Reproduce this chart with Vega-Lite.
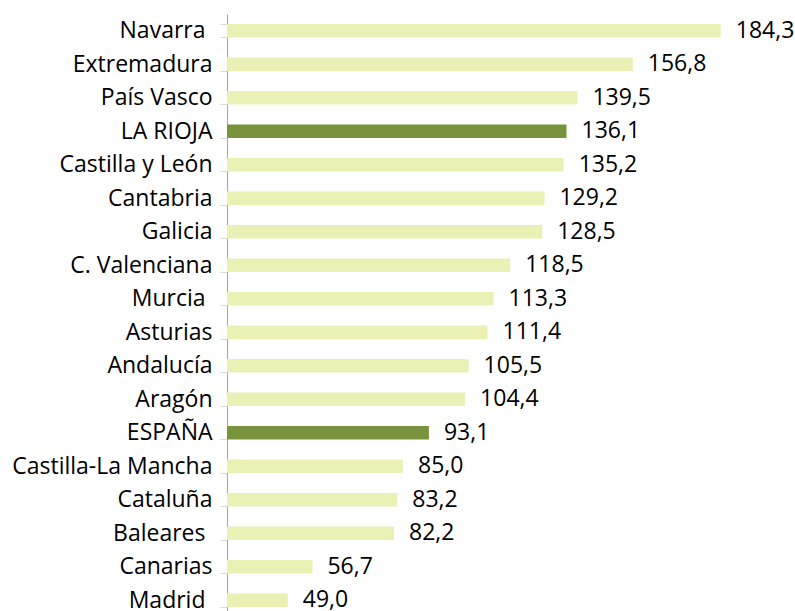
{
  "$schema": "https://vega.github.io/schema/vega-lite/v6.json",
  "width": 544,
  "height": 603,
  "autosize": {"type": "none"},
  "padding": {"left": 227, "top": 14, "right": 24, "bottom": 0},
  "config": {
    "view": {"stroke": null},
    "locale": {"number": {"decimal": ",", "thousands": ".", "grouping": [3], "currency": ["", " €"]}}
  },
  "data": {
    "values": [
      {"region": "Navarra", "value": 184.3, "group": "otro"},
      {"region": "Extremadura", "value": 156.8, "group": "otro"},
      {"region": "País Vasco", "value": 139.5, "group": "otro"},
      {"region": "LA RIOJA", "value": 136.1, "group": "destacado"},
      {"region": "Castilla y León", "value": 135.2, "group": "otro"},
      {"region": "Cantabria", "value": 129.2, "group": "otro"},
      {"region": "Galicia", "value": 128.5, "group": "otro"},
      {"region": "C. Valenciana", "value": 118.5, "group": "otro"},
      {"region": "Murcia", "value": 113.3, "group": "otro"},
      {"region": "Asturias", "value": 111.4, "group": "otro"},
      {"region": "Andalucía", "value": 105.5, "group": "otro"},
      {"region": "Aragón", "value": 104.4, "group": "otro"},
      {"region": "ESPAÑA", "value": 93.1, "group": "destacado"},
      {"region": "Castilla-La Mancha", "value": 85.0, "group": "otro"},
      {"region": "Cataluña", "value": 83.2, "group": "otro"},
      {"region": "Baleares", "value": 82.2, "group": "otro"},
      {"region": "Canarias", "value": 56.7, "group": "otro"},
      {"region": "Madrid", "value": 49.0, "group": "otro"}
    ]
  },
  "encoding": {
    "y": {
      "field": "region",
      "type": "nominal",
      "sort": null,
      "scale": {"paddingInner": 0.6, "paddingOuter": 0.3},
      "axis": {
        "title": null,
        "labelFont": "Open Sans",
        "labelFontSize": 23,
        "labelColor": "#000000",
        "labelPadding": {"condition": {"test": "indexof(['Navarra','Murcia','Baleares','Madrid'], datum.value) >= 0", "value": 15}, "value": 8},
        "tickSize": 7,
        "tickBand": "extent",
        "tickColor": "#D9D9D9",
        "domainColor": "#A6A6A6",
        "labelLimit": 300
      }
    },
    "x": {
      "field": "value",
      "type": "quantitative",
      "scale": {"domain": [30, 200], "nice": false, "zero": false},
      "axis": null
    }
  },
  "layer": [
    {
      "mark": {"type": "bar", "clip": true},
      "encoding": {
        "color": {
          "field": "group",
          "type": "nominal",
          "scale": {"domain": ["otro", "destacado"], "range": ["#EBF0B5", "#77933C"]},
          "legend": null
        }
      }
    },
    {
      "mark": {"type": "text", "align": "left", "baseline": "middle", "dx": 15, "font": "Open Sans", "fontSize": 23, "color": "#000000"},
      "encoding": {
        "text": {"field": "value", "type": "quantitative", "format": ".1f"}
      }
    }
  ]
}
